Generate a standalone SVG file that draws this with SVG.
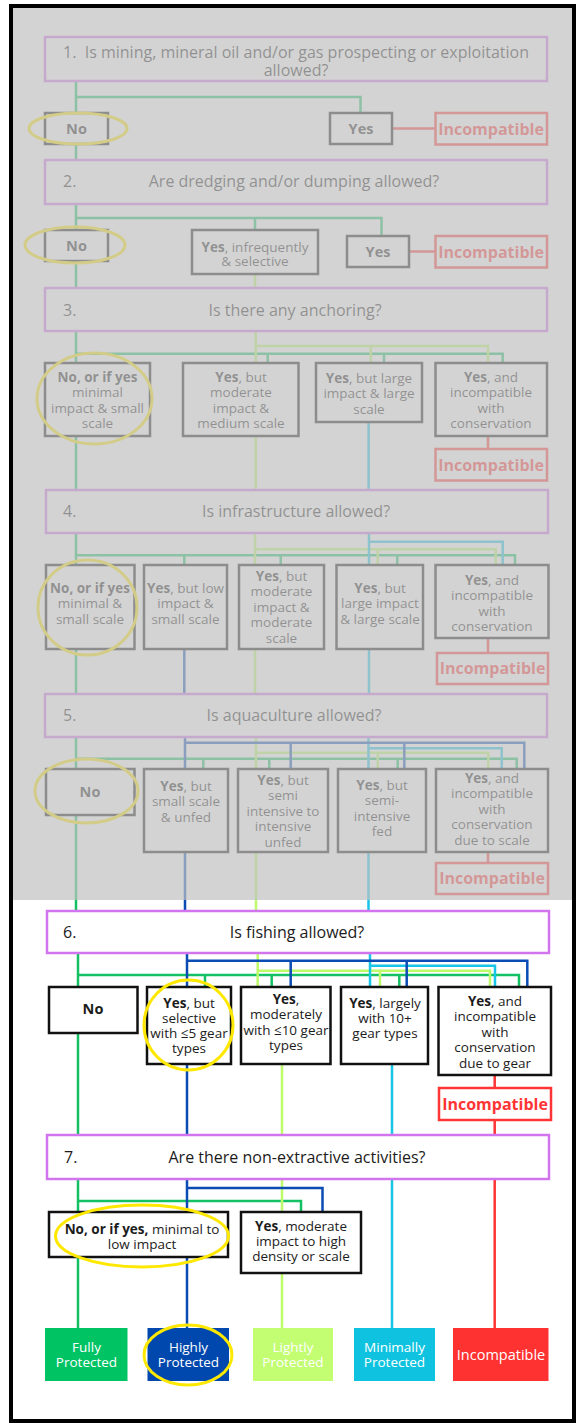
<svg xmlns="http://www.w3.org/2000/svg" width="578" height="1423" viewBox="0 0 578 1423">
<style>
  text { font-family: "Open Sans", "Liberation Sans", sans-serif; fill: #1c1c1c; }
  .qt { font-size: 16px; text-anchor: middle; }
  .qn { font-size: 16px; }
  .bt { font-size: 13.5px; text-anchor: middle; }
  .nt { font-size: 14.5px; font-weight: 700; text-anchor: middle; }
  .b { font-weight: 700; }
  .q { fill: #fff; stroke: #d174ee; stroke-width: 2.5; }
  .o { fill: #fff; stroke: #111; stroke-width: 2.5; }
  .x { fill: #fff; stroke: #ff3535; stroke-width: 2.5; }
  .xt { fill: #ff3535; font-size: 16px; font-weight: 700; text-anchor: middle; }
  .hl { fill: none; stroke: #ffe800; stroke-width: 3; }
  .ln path { fill: none; stroke-width: 2.5; }
  .g { stroke: #14c064; }
  .lg { stroke: #bdfb6a; }
  .cy { stroke: #17c5e6; }
  .bl { stroke: #0a4cb4; }
  .rd { stroke: #ff3535; }
  .rt { fill: #fff; font-size: 13.5px; text-anchor: middle; }
  .rt1 { fill: #fff; font-size: 14.5px; text-anchor: middle; }
</style>

<rect x="0" y="0" width="578" height="1423" fill="#fff"/>

<!-- connectors -->
<g id="connectors" class="ln">
  <path class="g" d="M76 81V162M76 97H360.5V113M76 204V288M76 218H381.5V236M255 218V230M76 331V490M76 353.7H502.7V363M267.7 353.7V363M384 353.7V363M76 533V694M76 555.3H515V565M184.3 555.3V565M280.7 555.3V565M397.3 555.3V565M76 737V911M76 758.7H516.7V769M203.3 758.7V769M269.3 758.7V769M397.7 758.7V769M78 953V1135M78 975H519V987M205 975V987M271.7 975V987M399.3 975V987M78 1179V1328M78 1201H301V1212"/>
  <path class="lg" d="M255 274V288M255.7 331V490M255.7 346H488V363M370.7 346V363M255 533V694M255 549.3H495.7V565M377.7 549.3V565M256 737V911M256 752.7H488.3V769M377.7 752.7V769M257.7 953V987M257.7 970.7H490V987M380 970.7V987M282 1064V1328"/>
  <path class="cy" d="M368.6 422V490M369 533V694M369 541.7H502.7V565M368.5 737V911M368.5 748.3H501.7V769M370 953V987M370 965.7H495V987M392 1064V1328"/>
  <path class="bl" d="M184.3 649V694M185 737V911M185 742.7H524.3V769M290.7 742.7V769M404.3 742.7V769M187 953V1135M187 960.7H527.3V987M290.7 960.7V987M406.7 960.7V987M187 1179V1328M187 1188H322.5V1212"/>
  <path class="rd" d="M392 128.5H435.5M409 251.5H435.5M488 436V449M488 638V653M488 852V863M494.7 1075V1088M494.7 1120V1328"/>
</g>

<!-- question 1 -->
<g id="q1">
  <rect class="q" x="45" y="37" width="502" height="44"/>
  <text class="qt" x="296" y="58">1.&#160; Is mining, mineral oil and/or gas prospecting or exploitation<tspan x="296" y="76">allowed?</tspan></text>
</g>
<g id="q1-no"><rect class="o" x="45" y="113" width="63" height="31"/><text class="nt" x="76.5" y="133.5">No</text></g>
<g id="q1-yes"><rect class="o" x="330" y="113" width="62" height="31"/><text class="nt" x="361" y="133.5">Yes</text></g>
<g id="q1-inc"><rect class="x" x="435.5" y="113" width="111.5" height="31.5"/><text class="xt" x="491" y="134.5">Incompatible</text></g>

<!-- question 2 -->
<g id="q2">
  <rect class="q" x="45" y="160" width="502" height="44"/>
  <text class="qn" x="63" y="187">2.</text>
  <text class="qt" x="294" y="187">Are dredging and/or dumping allowed?</text>
</g>
<g id="q2-no"><rect class="o" x="45" y="230" width="63" height="31"/><text class="nt" x="76.5" y="250.5">No</text></g>
<g id="q2-selective">
  <rect class="o" x="192" y="230" width="126" height="44"/>
  <text class="bt" x="255" y="251.5"><tspan class="b">Yes</tspan>, infrequently<tspan x="255" y="266">&amp; selective</tspan></text>
</g>
<g id="q2-yes"><rect class="o" x="347" y="236" width="62" height="31"/><text class="nt" x="378" y="256.5">Yes</text></g>
<g id="q2-inc"><rect class="x" x="435.5" y="236" width="111.5" height="31.5"/><text class="xt" x="491" y="257.5">Incompatible</text></g>

<!-- question 3 -->
<g id="q3">
  <rect class="q" x="45" y="288" width="502" height="43"/>
  <text class="qn" x="63" y="316">3.</text>
  <text class="qt" x="295" y="316">Is there any anchoring?</text>
</g>
<g id="q3-a">
  <rect class="o" x="45" y="363" width="105" height="73"/>
  <text class="bt" x="97.5" y="381.5"><tspan class="b">No, or if yes</tspan><tspan x="97.5" y="397">minimal</tspan><tspan x="97.5" y="412.5">impact &amp; small</tspan><tspan x="97.5" y="428">scale</tspan></text>
</g>
<g id="q3-b">
  <rect class="o" x="183" y="363" width="115.5" height="73"/>
  <text class="bt" x="241" y="381.5"><tspan class="b">Yes</tspan>, but<tspan x="241" y="397">moderate</tspan><tspan x="241" y="412.5">impact &amp;</tspan><tspan x="241" y="428">medium scale</tspan></text>
</g>
<g id="q3-c">
  <rect class="o" x="316" y="363" width="106" height="59"/>
  <text class="bt" x="369" y="382.5"><tspan class="b">Yes</tspan>, but large<tspan x="369" y="398">impact &amp; large</tspan><tspan x="369" y="413.5">scale</tspan></text>
</g>
<g id="q3-d">
  <rect class="o" x="435.5" y="363" width="111.5" height="73"/>
  <text class="bt" x="491" y="381.5"><tspan class="b">Yes</tspan>, and<tspan x="491" y="397">incompatible</tspan><tspan x="491" y="412.5">with</tspan><tspan x="491" y="428">conservation</tspan></text>
</g>
<g id="q3-inc"><rect class="x" x="435.5" y="449" width="111.5" height="31.5"/><text class="xt" x="491" y="470.5">Incompatible</text></g>

<!-- question 4 -->
<g id="q4">
  <rect class="q" x="46" y="490" width="502" height="43"/>
  <text class="qn" x="63" y="517">4.</text>
  <text class="qt" x="296" y="517">Is infrastructure allowed?</text>
</g>
<g id="q4-a">
  <rect class="o" x="46" y="565" width="88.5" height="84"/>
  <text class="bt" x="90" y="592.5"><tspan class="b">No, or if yes</tspan><tspan x="90" y="608">minimal &amp;</tspan><tspan x="90" y="623.5">small scale</tspan></text>
</g>
<g id="q4-b">
  <rect class="o" x="144" y="565" width="83" height="84"/>
  <text class="bt" x="185.5" y="592.5"><tspan class="b">Yes</tspan>, but low<tspan x="185.5" y="608">impact &amp;</tspan><tspan x="185.5" y="623.5">small scale</tspan></text>
</g>
<g id="q4-c">
  <rect class="o" x="239" y="565" width="85" height="84"/>
  <text class="bt" x="281.5" y="580.5"><tspan class="b">Yes</tspan>, but<tspan x="281.5" y="596">moderate</tspan><tspan x="281.5" y="611.5">impact &amp;</tspan><tspan x="281.5" y="627">moderate</tspan><tspan x="281.5" y="642.5">scale</tspan></text>
</g>
<g id="q4-d">
  <rect class="o" x="336.5" y="565" width="86.5" height="84"/>
  <text class="bt" x="380" y="592.5"><tspan class="b">Yes</tspan>, but<tspan x="380" y="608">large impact</tspan><tspan x="380" y="623.5">&amp; large scale</tspan></text>
</g>
<g id="q4-e">
  <rect class="o" x="435.5" y="565" width="113" height="73"/>
  <text class="bt" x="492" y="584.5"><tspan class="b">Yes</tspan>, and<tspan x="492" y="600">incompatible</tspan><tspan x="492" y="615.5">with</tspan><tspan x="492" y="631">conservation</tspan></text>
</g>
<g id="q4-inc"><rect class="x" x="437" y="653" width="111" height="31"/><text class="xt" x="492.5" y="674">Incompatible</text></g>

<!-- question 5 -->
<g id="q5">
  <rect class="q" x="45" y="694" width="502" height="43"/>
  <text class="qn" x="63" y="721">5.</text>
  <text class="qt" x="294" y="721">Is aquaculture allowed?</text>
</g>
<g id="q5-a"><rect class="o" x="46" y="769" width="88.5" height="46"/><text class="nt" x="90" y="797">No</text></g>
<g id="q5-b">
  <rect class="o" x="144" y="769" width="84" height="83"/>
  <text class="bt" x="186" y="790.5"><tspan class="b">Yes</tspan>, but<tspan x="186" y="806">small scale</tspan><tspan x="186" y="821.5">&amp; unfed</tspan></text>
</g>
<g id="q5-c">
  <rect class="o" x="238" y="769" width="90" height="83"/>
  <text class="bt" x="283" y="784.5"><tspan class="b">Yes</tspan>, but<tspan x="283" y="800">semi</tspan><tspan x="283" y="815.5">intensive to</tspan><tspan x="283" y="831">intensive</tspan><tspan x="283" y="846.5">unfed</tspan></text>
</g>
<g id="q5-d">
  <rect class="o" x="338" y="769" width="88" height="83"/>
  <text class="bt" x="382" y="789.5"><tspan class="b">Yes</tspan>, but<tspan x="382" y="805">semi-</tspan><tspan x="382" y="820.5">intensive</tspan><tspan x="382" y="836">fed</tspan></text>
</g>
<g id="q5-e">
  <rect class="o" x="436" y="769" width="112" height="83"/>
  <text class="bt" x="492" y="782.5"><tspan class="b">Yes</tspan>, and<tspan x="492" y="798">incompatible</tspan><tspan x="492" y="813.5">with</tspan><tspan x="492" y="829">conservation</tspan><tspan x="492" y="844.5">due to scale</tspan></text>
</g>
<g id="q5-inc"><rect class="x" x="436" y="863" width="112" height="31"/><text class="xt" x="492" y="884">Incompatible</text></g>

<!-- question 6 -->
<g id="q6">
  <rect class="q" x="47" y="911" width="502" height="42"/>
  <text class="qn" x="63" y="938">6.</text>
  <text class="qt" x="297" y="938">Is fishing allowed?</text>
</g>
<g id="q6-a"><rect class="o" x="49" y="987" width="88.5" height="46"/><text class="nt" x="93" y="1014">No</text></g>
<g id="q6-b">
  <rect class="o" x="147" y="987" width="84" height="77"/>
  <text class="bt" x="189" y="1007.5"><tspan class="b">Yes</tspan>, but<tspan x="189" y="1022.5">selective</tspan><tspan x="189" y="1037.5">with ≤5 gear</tspan><tspan x="189" y="1053">types</tspan></text>
</g>
<g id="q6-c">
  <rect class="o" x="241" y="987" width="89.5" height="77"/>
  <text class="bt" x="286" y="1003.5"><tspan class="b">Yes</tspan>,<tspan x="286" y="1019">moderately</tspan><tspan x="286" y="1034.5">with ≤10 gear</tspan><tspan x="286" y="1050">types</tspan></text>
</g>
<g id="q6-d">
  <rect class="o" x="341" y="987" width="87" height="77"/>
  <text class="bt" x="385" y="1007.5"><tspan class="b">Yes</tspan>, largely<tspan x="385" y="1022.5">with 10+</tspan><tspan x="385" y="1038">gear types</tspan></text>
</g>
<g id="q6-e">
  <rect class="o" x="438.5" y="987" width="112.5" height="88"/>
  <text class="bt" x="495" y="1005.5"><tspan class="b">Yes</tspan>, and<tspan x="495" y="1021">incompatible</tspan><tspan x="495" y="1036.5">with</tspan><tspan x="495" y="1052">conservation</tspan><tspan x="495" y="1067.5">due to gear</tspan></text>
</g>
<g id="q6-inc"><rect class="x" x="439" y="1088" width="112" height="32"/><text class="xt" x="495" y="1109.5">Incompatible</text></g>

<!-- question 7 -->
<g id="q7">
  <rect class="q" x="47" y="1135" width="502" height="44"/>
  <text class="qn" x="64" y="1163">7.</text>
  <text class="qt" x="297" y="1163">Are there non-extractive activities?</text>
</g>
<g id="q7-a">
  <rect class="o" x="49" y="1212" width="179" height="45"/>
  <text class="bt" x="142" y="1233.5"><tspan class="b">No, or if yes,</tspan> minimal to<tspan x="142" y="1248.5">low impact</tspan></text>
</g>
<g id="q7-b">
  <rect class="o" x="241" y="1212" width="120" height="61"/>
  <text class="bt" x="301" y="1230.5"><tspan class="b">Yes</tspan>, moderate<tspan x="301" y="1245.5">impact to high</tspan><tspan x="301" y="1260.5">density or scale</tspan></text>
</g>

<!-- outcomes -->
<g id="fully"><rect x="45" y="1328" width="82.5" height="53" fill="#00c364"/><text class="rt" x="86.5" y="1351.5">Fully<tspan x="86.5" y="1366.5">Protected</tspan></text></g>
<g id="highly"><rect x="147.5" y="1328" width="81.5" height="53" fill="#0048ad"/><text class="rt" x="188.5" y="1351.5">Highly<tspan x="188.5" y="1366.5">Protected</tspan></text></g>
<g id="lightly"><rect x="253" y="1328" width="80" height="53" fill="#c3fd72"/><text class="rt" x="293" y="1351.5">Lightly<tspan x="293" y="1366.5">Protected</tspan></text></g>
<g id="minimally"><rect x="354" y="1328" width="81" height="53" fill="#0fc3e0"/><text class="rt" x="394.5" y="1351.5">Minimally<tspan x="394.5" y="1366.5">Protected</tspan></text></g>
<g id="incompatible"><rect x="453" y="1328" width="95.5" height="53" fill="#ff3232"/><text class="rt1" x="501" y="1360">Incompatible</text></g>

<!-- highlighted path -->
<g id="highlights">
  <ellipse class="hl" cx="78" cy="128.5" rx="49" ry="15.5"/>
  <ellipse class="hl" cx="75" cy="245" rx="50" ry="18"/>
  <ellipse class="hl" cx="94.5" cy="398.5" rx="57.5" ry="45.5"/>
  <ellipse class="hl" cx="87.5" cy="607.5" rx="49.5" ry="47.5"/>
  <ellipse class="hl" cx="86.5" cy="791" rx="51.5" ry="32"/>
  <ellipse class="hl" cx="188.5" cy="1025" rx="44.5" ry="45"/>
  <ellipse class="hl" cx="142" cy="1236" rx="86.5" ry="31"/>
  <ellipse class="hl" cx="188" cy="1355" rx="44" ry="30"/>
</g>

<!-- grey shade over steps 1 to 5 -->
<rect id="shade" x="13" y="8" width="560" height="892" fill="#c1c1c1" fill-opacity="0.706"/>

<!-- frame -->
<rect x="11" y="6" width="563" height="1415" fill="none" stroke="#000" stroke-width="4"/>
</svg>
